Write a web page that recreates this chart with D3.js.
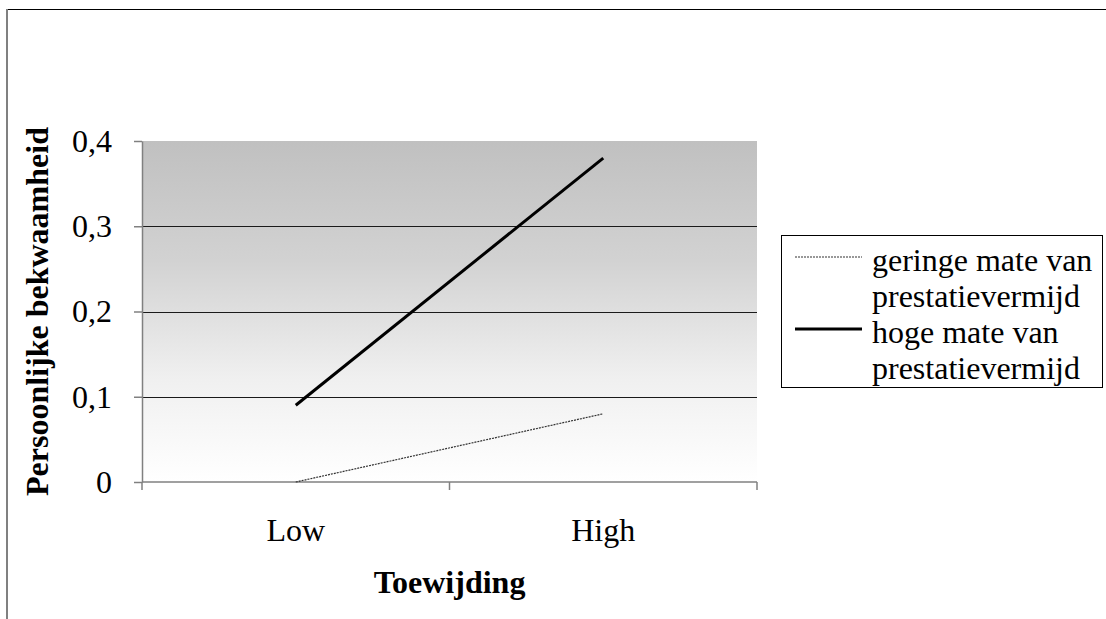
<!DOCTYPE html>
<html>
<head>
<meta charset="utf-8">
<script src="https://cdn.jsdelivr.net/npm/d3@7"></script>
<style>
  html, body { margin: 0; padding: 0; background: #fff; }
  svg { display: block; }
  text { font-family: "Liberation Serif", "Times New Roman", serif; fill: #000; }
</style>
</head>
<body>
<svg id="chart" width="1106" height="619"></svg>
<script>
// Categories on the x axis
const categories = ["Low", "High"];
// Series: personal competence at low/high dedication
const seriesNames = ["geringe mate van prestatievermijd", "hoge mate van prestatievermijd"];
const lowAvoidance = [0, 0.08];
const highAvoidance = [0.09, 0.38];
// Y tick values and labels
const yTicks = [0, 0.1, 0.2, 0.3, 0.4];
const yTickLabels = ["0", "0,1", "0,2", "0,3", "0,4"];
// Legend label lines (wrapped)
const legendLines = [["geringe mate van", "prestatievermijd"], ["hoge mate van", "prestatievermijd"]];

const svg = d3.select("#chart");
const plot = { left: 142, right: 757, top: 141, bottom: 482 };

const x = d3.scaleBand().domain(categories).range([plot.left, plot.right]).padding(0);
const y = d3.scaleLinear().domain([0, 0.4]).range([plot.bottom, plot.top]);

// Outer frame: top and left edges
svg.append("line").attr("x1", 6).attr("x2", 1106).attr("y1", 9.5).attr("y2", 9.5)
  .attr("stroke", "#000").attr("stroke-width", 1);
svg.append("line").attr("x1", 7).attr("x2", 7).attr("y1", 9).attr("y2", 619)
  .attr("stroke", "#808080").attr("stroke-width", 2);

// Plot background gradient
const defs = svg.append("defs");
const grad = defs.append("linearGradient").attr("id", "bg").attr("x1", 0).attr("y1", 0).attr("x2", 0).attr("y2", 1);
grad.append("stop").attr("offset", "0%").attr("stop-color", "#c0c0c0");
grad.append("stop").attr("offset", "35%").attr("stop-color", "#d2d2d2");
grad.append("stop").attr("offset", "70%").attr("stop-color", "#f0f0f0");
grad.append("stop").attr("offset", "100%").attr("stop-color", "#ffffff");
svg.append("rect").attr("x", plot.left).attr("y", plot.top)
  .attr("width", plot.right - plot.left).attr("height", plot.bottom - plot.top)
  .attr("fill", "url(#bg)");

// Horizontal gridlines
svg.append("g").selectAll("line").data(yTicks.filter(d => d > 0 && d < 0.4)).join("line")
  .attr("x1", plot.left).attr("x2", plot.right)
  .attr("y1", d => Math.round(y(d)) + 0.5).attr("y2", d => Math.round(y(d)) + 0.5)
  .attr("stroke", "#1a1a1a").attr("stroke-width", 1);

// Y axis
const yAxis = d3.axisLeft(y).tickValues(yTicks)
  .tickFormat((d, i) => yTickLabels[i]).tickSize(8).tickSizeOuter(0).tickPadding(22);
const gy = svg.append("g").attr("transform", `translate(${plot.left},0)`).call(yAxis);
gy.attr("font-family", null);
gy.select(".domain").attr("stroke", "#808080").attr("stroke-width", 1.5);
gy.selectAll(".tick line").attr("stroke", "#808080").attr("stroke-width", 1.5);
gy.selectAll(".tick text").style("font-size", "32px").attr("fill", "#000");

// X axis line and boundary ticks
svg.append("line").attr("x1", plot.left).attr("x2", plot.right)
  .attr("y1", plot.bottom).attr("y2", plot.bottom)
  .attr("stroke", "#808080").attr("stroke-width", 1.5);
svg.append("line").attr("x1", plot.left).attr("x2", plot.left)
  .attr("y1", plot.bottom).attr("y2", plot.bottom + 8)
  .attr("stroke", "#808080").attr("stroke-width", 1.5);
const bounds = categories.map(c => x(c) + x.bandwidth());
svg.append("g").selectAll("line").data(bounds).join("line")
  .attr("x1", d => d).attr("x2", d => d)
  .attr("y1", plot.bottom).attr("y2", plot.bottom + 8)
  .attr("stroke", "#808080").attr("stroke-width", 1.5);

// X axis category labels
const xAxis = d3.axisBottom(x).tickSize(0).tickPadding(36);
const gx = svg.append("g").attr("transform", `translate(0,${plot.bottom})`).call(xAxis);
gx.attr("font-family", null);
gx.select(".domain").remove();
gx.selectAll(".tick text").style("font-size", "32px").attr("fill", "#000");

// Axis titles
svg.append("text").attr("x", x.step() + plot.left).attr("y", 593)
  .attr("text-anchor", "middle").style("font-size", "32px").style("font-weight", "bold")
  .text("Toewijding");
svg.append("text").attr("transform", `translate(48,${(plot.top + plot.bottom) / 2}) rotate(-90)`)
  .attr("text-anchor", "middle").style("font-size", "32px").style("font-weight", "bold")
  .text("Persoonlijke bekwaamheid");

// Series lines
const line = d3.line().x((d, i) => x(categories[i]) + x.bandwidth() / 2).y(d => y(d));
svg.append("path").datum(lowAvoidance).attr("d", line)
  .attr("fill", "none").attr("stroke", "#333").attr("stroke-width", 1.2).attr("stroke-dasharray", "2,1");
svg.append("path").datum(highAvoidance).attr("d", line)
  .attr("fill", "none").attr("stroke", "#000").attr("stroke-width", 3);

// Legend
const lg = svg.append("g");
lg.append("rect").attr("x", 781.5).attr("y", 235.5).attr("width", 321).attr("height", 152)
  .attr("fill", "#fff").attr("stroke", "#000").attr("stroke-width", 1);
const lineH = 36;
legendLines.forEach((lines, k) => {
  const baseY = 271 + k * 2 * lineH;
  lg.append("line").attr("x1", 795).attr("x2", 862)
    .attr("y1", baseY - 14).attr("y2", baseY - 14)
    .attr("stroke", k === 0 ? "#333" : "#000")
    .attr("stroke-width", k === 0 ? 1.2 : 3)
    .attr("stroke-dasharray", k === 0 ? "2,1" : null);
  lines.forEach((t, j) => {
    lg.append("text").attr("x", 872).attr("y", baseY + j * lineH)
      .style("font-size", "32px").text(t);
  });
});
</script>
</body>
</html>
